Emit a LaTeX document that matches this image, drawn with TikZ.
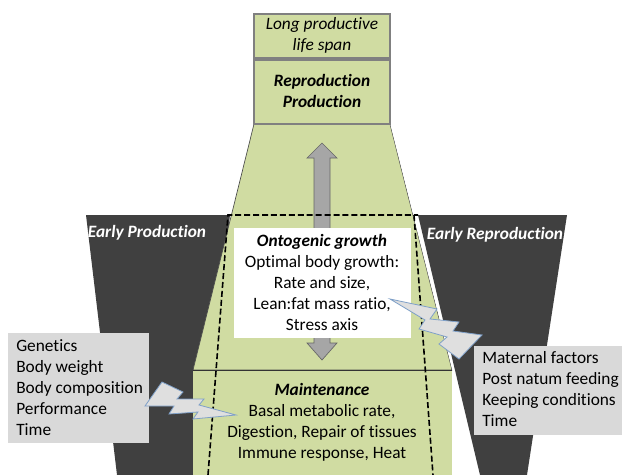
\documentclass[tikz,border=0pt]{standalone}
\usepackage{fontspec}
\setmainfont[Ligatures={NoCommon}]{Carlito}
\usetikzlibrary{positioning}
\definecolor{leaf}{RGB}{208,220,162}
\definecolor{night}{RGB}{64,64,64}
\definecolor{fog}{RGB}{217,217,217}
\definecolor{boltline}{RGB}{127,160,200}
\definecolor{shaft}{RGB}{166,166,166}
\tikzset{
  txt/.style={font=\fontsize{13}{15.75}\selectfont, align=center, inner sep=0pt},
  head/.style={txt, font=\fontsize{13}{15.75}\selectfont\bfseries\itshape},
  dark/.style={fill=night, draw=none},
  boltshape/.style={fill=fog!85!white, draw=boltline, line width=0.6pt, line join=miter},
  factor/.style={fill=fog, draw=none}
}

\begin{document}
\begin{tikzpicture}[x=0.75pt,y=-0.75pt]
\useasboundingbox (0,0) rectangle (622,475);

% dark side shapes
\fill[dark] (86,215) -- (230,215) -- (200,475) -- (117,475) -- cycle;
\fill[dark] (418,215) -- (567,215) -- (527,475) -- (480,475) -- cycle;
\node[head, text=white] (earlyprod) at (147,233) {Early Production};
\node[head, text=white] (earlyrepro) at (495,235) {Early Reproduction};

% green body
\draw[fill=leaf, draw=black!70, line width=0.5pt] (254,124) -- (390,124) -- (452,370) -- (193,370) -- cycle;
\draw[white, line width=1pt] (391,124) -- (453,370);
\fill[leaf] (193,370) rectangle (452,475);
\draw[black!80, line width=0.6pt] (193,370) -- (452,370);

% top boxes
\draw[fill=leaf, draw=black!50, line width=0.8pt] (254,14) rectangle (390,58);
\draw[fill=leaf, draw=black!50, line width=0.8pt] (254,60) rectangle (390,124);
\node[txt, font=\fontsize{13}{15.75}\selectfont\itshape] (lifespan) at (322,35.5) {Long productive\\life span};
\node[head] (repro) at (322,90.5) {Reproduction\\Production};

% double arrow
\draw[fill=shaft, draw=black!60, line width=0.5pt]
  (322,143) -- (337,158) -- (330,158) -- (330,343) -- (337,343) -- (322,360)
  -- (307,343) -- (314,343) -- (314,158) -- (307,158) -- cycle;

% ontogenic growth box
\fill[white] (234,228) rectangle (411,338);
\node[txt] (onto) at (322,282.5) {\textbf{\textit{Ontogenic growth}}\\Optimal body growth:\\Rate and size,\\Lean:fat mass ratio,\\Stress axis};

% dashed frame
\draw[dashed, dash pattern=on 4.5pt off 2.2pt, line width=1.2pt] (208,475) -- (228,215) -- (418,215);
\draw[dashed, dash pattern=on 4.5pt off 2.2pt, line width=1.2pt] (414,215) -- (433,475);

% maintenance
\node[txt] (maint) at (322,422) {\textbf{\textit{Maintenance}}\\Basal metabolic rate,\\Digestion, Repair of tissues\\Immune response, Heat};

% factor boxes
\fill[factor] (8,333) rectangle (149,443);
\node[txt, align=left, anchor=west] (animal) at (16,388) {Genetics\\Body weight\\Body composition\\Performance\\Time};
\fill[factor] (474,346) rectangle (622,435);
\node[txt, align=left, anchor=west] (environ) at (482,389.5) {Maternal factors\\Post natum feeding\\Keeping conditions\\Time};

% lightning bolts
\draw[boltshape] (145,406) -- (162,382) -- (183,392) -- (177,399) -- (204,399) -- (199,405)
  -- (236,415) -- (193,419) -- (198,412) -- (169,414) -- (174,406) -- cycle;
\draw[boltshape] (390,299) -- (437,309) -- (430,319) -- (459,322) -- (453,331) -- (482,335)
  -- (459,359) -- (439,344) -- (447,337) -- (419,329) -- (425,320) -- cycle;

\end{tikzpicture}
\end{document}
